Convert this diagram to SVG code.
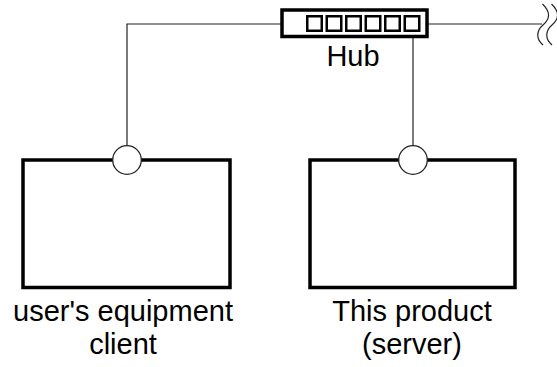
<svg xmlns="http://www.w3.org/2000/svg" width="557" height="367" viewBox="0 0 557 367">
<style>
.box{fill:#fff;stroke:#000;stroke-width:3.5}
.sq{fill:#fff;stroke:#000;stroke-width:2.5}
.wire{fill:none;stroke:#222;stroke-width:1.2}
.port{fill:#fff;stroke:#222;stroke-width:1.3}
.lbl{font-family:"Liberation Sans",Arial,sans-serif;font-size:29px;fill:#000;text-anchor:middle}
</style>
<rect width="557" height="367" fill="#fff"/>
<g id="connectors">
<polyline class="wire" points="282,24 127,24 127,146"/>
<line class="wire" x1="413" y1="37" x2="413" y2="146"/>
<line class="wire" x1="427" y1="24" x2="542" y2="24"/>
<path class="wire" d="M542.5,4 C551,12 550,19 543,25 C536,31 536,39 543,45"/>
<path class="wire" d="M551.5,4 C560,12 559,19 552,25 C545,31 545,39 552,45"/>
</g>
<g id="hub">
<rect class="box" x="282" y="10" width="145" height="26.5"/>
<rect class="sq" x="307.25" y="16.25" width="14.5" height="14.5"/>
<rect class="sq" x="326.75" y="16.25" width="14.5" height="14.5"/>
<rect class="sq" x="346.25" y="16.25" width="14.5" height="14.5"/>
<rect class="sq" x="365.75" y="16.25" width="14.5" height="14.5"/>
<rect class="sq" x="385.25" y="16.25" width="14.5" height="14.5"/>
<rect class="sq" x="404.75" y="16.25" width="14.5" height="14.5"/>
<text class="lbl" x="353" y="66">Hub</text>
</g>
<g id="client">
<rect class="box" x="23" y="160" width="207" height="127.5"/>
<circle class="port" cx="127" cy="160" r="14.3"/>
<text class="lbl" x="123" y="321">user's equipment</text>
<text class="lbl" x="123" y="354">client</text>
</g>
<g id="server">
<rect class="box" x="310" y="160" width="205" height="127.5"/>
<circle class="port" cx="413" cy="160" r="14.3"/>
<text class="lbl" x="412" y="321">This product</text>
<text class="lbl" x="412" y="354">(server)</text>
</g>
</svg>
